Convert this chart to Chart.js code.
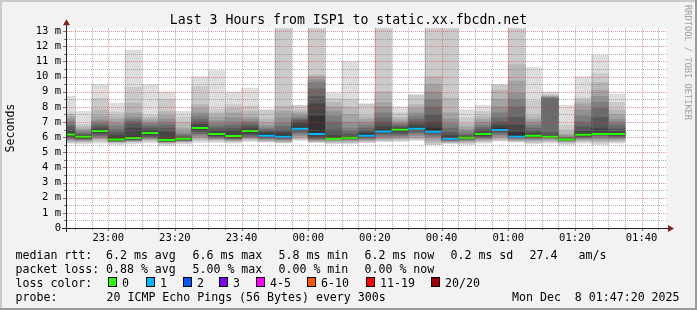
<!DOCTYPE html>
<html><head><meta charset="utf-8">
<script src="https://cdn.jsdelivr.net/npm/chart.js@4/dist/chart.umd.min.js"></script>
<style>html,body{margin:0;padding:0;background:#f2f2f2;}canvas{display:block;}</style>
</head><body>
<canvas id="c" width="697" height="310"></canvas>
<script>
const titleText = 'Last 3 Hours from ISP1 to static.xx.fbcdn.net';
const yAxisTitle = 'Seconds';
const watermark = 'RRDTOOL / TOBI OETIKER';
const windowStart = '22:47:20';
const windowEnd = '01:47:20';
const stepMinutes = 5;

// start time of every 5-minute smoke bar
const barStarts = ['22:45','22:50','22:55','23:00','23:05','23:10','23:15','23:20','23:25','23:30','23:35','23:40',
  '23:45','23:50','23:55','00:00','00:05','00:10','00:15','00:20','00:25','00:30','00:35','00:40','00:45','00:50',
  '00:55','01:00','01:05','01:10','01:15','01:20','01:25','01:30'];

// sorted ping round-trip times (ms) of each bar; lost pings are missing
const pings = [
  [5.58,5.65,5.72,5.78,5.84,5.9,5.95,6.02,6.08,6.14,6.22,6.4,6.65,6.8,7.0,7.2,7.35,7.5,7.6,8.7],
  [5.55,5.65,5.7,5.75,5.8,5.85,5.88,5.9,5.95,6.0,6.05,6.1,6.15,6.25,6.35,6.45,6.55,6.7,6.85,7.7],
  [5.6,5.7,5.8,5.9,5.95,6.0,6.1,6.2,6.3,6.4,6.45,6.55,6.7,6.85,7.0,7.15,7.4,7.8,8.55,9.45],
  [5.5,5.6,5.65,5.68,5.7,5.72,5.75,5.78,5.8,5.85,5.95,6.1,6.3,6.5,6.75,6.95,7.2,7.4,7.65,8.25],
  [5.55,5.65,5.7,5.75,5.78,5.8,5.82,5.85,5.88,5.92,6.0,6.6,6.9,7.05,7.2,7.35,7.6,8.25,9.3,11.75],
  [5.62,5.72,5.8,5.85,5.9,5.95,6.0,6.05,6.15,6.25,6.33,6.45,6.6,6.75,6.9,7.0,7.15,7.3,7.45,9.45],
  [5.45,5.55,5.6,5.65,5.68,5.7,5.72,5.74,5.76,5.8,5.82,6.35,6.6,6.8,7.0,7.2,7.45,7.7,8.5,9.0],
  [5.55,5.62,5.68,5.72,5.75,5.78,5.8,5.82,5.85,5.87,5.9,5.95,6.0,6.1,6.2,6.35,6.6,7.0,7.35,7.7],
  [5.65,5.75,5.85,5.95,6.05,6.15,6.25,6.35,6.45,6.55,6.65,6.85,7.0,7.2,7.4,7.6,7.9,8.15,9.35,10.0],
  [5.65,5.75,5.8,5.85,5.9,5.95,6.0,6.05,6.1,6.18,6.25,6.4,6.55,6.7,6.9,7.1,7.35,7.6,7.85,10.4],
  [5.6,5.68,5.74,5.78,5.82,5.86,5.9,5.94,5.98,6.05,6.12,6.45,6.6,6.8,7.0,7.3,7.6,7.9,8.15,9.0],
  [5.7,5.78,5.85,5.9,5.95,6.0,6.05,6.15,6.25,6.35,6.45,6.6,6.75,6.9,7.05,7.2,7.35,7.7,8.05,9.25],
  [5.6,5.68,5.74,5.8,5.85,5.9,5.95,6.0,6.05,6.09,6.2,6.3,6.4,6.5,6.6,6.75,6.95,7.2,7.8],
  [5.55,5.62,5.68,5.74,5.8,5.85,5.9,5.95,6.0,6.03,6.15,6.3,6.45,6.7,6.95,7.3,7.7,8.05,14.5],
  [5.7,5.8,5.9,6.0,6.1,6.2,6.3,6.4,6.5,6.56,6.7,6.95,7.1,7.2,7.3,7.45,7.6,7.75,8.1],
  [5.6,5.65,5.7,5.75,5.8,5.85,5.9,5.95,6.05,6.2,7.4,8.2,8.7,9.2,9.6,9.8,10.0,10.1,14.0],
  [5.55,5.62,5.68,5.74,5.8,5.84,5.87,5.9,5.92,5.93,5.96,6.1,6.5,7.0,7.4,7.7,8.0,8.3,8.55,8.9],
  [5.55,5.62,5.68,5.74,5.8,5.85,5.88,5.9,5.93,5.95,5.97,6.05,6.2,6.4,6.6,7.0,7.5,8.0,8.5,11.0],
  [5.6,5.66,5.72,5.78,5.84,5.9,5.95,6.0,6.05,6.09,6.2,6.3,6.45,6.6,6.8,7.0,7.2,7.4,8.2],
  [5.65,5.72,5.8,5.88,5.95,6.05,6.15,6.25,6.3,6.36,6.5,6.7,7.0,7.3,7.6,8.0,8.3,9.0,13.8],
  [5.7,5.78,5.85,5.92,6.0,6.08,6.15,6.25,6.35,6.45,6.52,6.6,6.7,6.8,6.9,7.0,7.15,7.3,7.6,8.0],
  [5.7,5.8,5.9,6.0,6.1,6.2,6.3,6.4,6.5,6.56,6.65,6.8,7.0,7.2,7.4,7.6,7.9,8.15,8.8],
  [5.35,5.5,5.65,5.8,5.95,6.05,6.15,6.25,6.3,6.36,6.6,7.0,7.5,8.0,8.5,9.0,9.5,10.0,14.0],
  [5.5,5.58,5.64,5.7,5.74,5.78,5.8,5.83,5.86,5.89,5.95,6.1,6.3,6.6,6.9,7.2,7.6,8.6,14.0],
  [5.5,5.58,5.65,5.72,5.78,5.82,5.86,5.9,5.93,5.95,5.97,6.0,6.1,6.2,6.35,6.5,6.7,6.9,7.3,7.8],
  [5.6,5.68,5.75,5.82,5.88,5.93,5.98,6.03,6.1,6.18,6.25,6.35,6.5,6.65,6.8,7.0,7.2,7.4,7.7,8.1],
  [5.65,5.75,5.85,5.95,6.05,6.15,6.25,6.35,6.42,6.49,6.6,6.8,7.0,7.3,7.6,8.0,8.5,9.1,9.45],
  [5.6,5.68,5.75,5.8,5.85,5.9,5.95,5.98,6.0,6.03,6.3,6.8,7.3,8.0,8.5,8.9,9.7,10.8,14.5],
  [5.55,5.62,5.7,5.78,5.84,5.9,5.95,6.0,6.05,6.08,6.12,6.25,6.4,6.6,6.8,7.0,7.2,7.4,8.4,10.6],
  [5.6,5.68,5.75,5.82,5.88,5.93,5.97,6.0,6.02,6.03,6.04,6.1,6.3,8.55,8.6,8.65,8.7,8.75,8.85,9.0],
  [5.5,5.58,5.64,5.7,5.74,5.77,5.8,5.82,5.84,5.85,5.86,5.88,5.9,5.95,6.0,6.1,6.2,6.4,6.8,8.1],
  [5.6,5.68,5.75,5.82,5.88,5.93,5.98,6.03,6.08,6.14,6.2,6.4,6.7,7.0,7.4,7.8,8.2,8.4,8.6,10.0],
  [5.5,5.6,5.7,5.8,5.9,6.0,6.1,6.15,6.18,6.2,6.25,6.6,7.3,7.9,8.3,8.7,9.1,9.6,10.2,11.4],
  [5.6,5.68,5.75,5.82,5.9,5.96,6.02,6.08,6.14,6.2,6.24,6.35,6.55,6.8,7.0,7.2,7.5,7.8,8.3,8.85]
];

// median rtt (ms) of each bar
const medians = [6.18,6.03,6.41,5.84,5.95,6.28,5.81,5.9,6.61,6.21,6.08,6.4,6.09,6.02,6.56,6.21,5.9,5.96,
  6.09,6.37,6.49,6.56,6.35,5.89,5.96,6.21,6.48,6.03,6.09,6.03,5.84,6.16,6.21,6.21];

// lost pings (of 20) in each bar
const lostPings = [0,0,0,0,0,0,0,0,0,0,0,0,1,1,1,1,0,0,1,1,0,1,1,1,0,0,1,1,0,0,0,0,0,0];

const lossLabels = ['0','1','2','3','4-5','6-10','11-19','20/20'];
const lossColors = ['#26ff00','#00b8ff','#0059ff','#7e00ff','#ff00ff','#ff5500','#ff0000','#a00000'];
const lossUpper = [0,1,2,3,5,10,19,20];

const xTickLabels = ['23:00','23:20','23:40','00:00','00:20','00:40','01:00','01:20','01:40'];
const yTickLabels = ['0','1 m','2 m','3 m','4 m','5 m','6 m','7 m','8 m','9 m','10 m','11 m','12 m','13 m'];
const yMax = 13.2;

const rttLegend = ['median rtt:','6.2 ms avg','6.6 ms max','5.8 ms min','6.2 ms now','0.2 ms sd','27.4','am/s'];
const lossLegend = ['packet loss:','0.88 % avg','5.00 % max','0.00 % min','0.00 % now'];
const colorLegendTitle = 'loss color:';
const probeLegend = ['probe:','20 ICMP Echo Pings (56 Bytes) every 300s'];
const dateText = 'Mon Dec  8 01:47:20 2025';

// ---------------------------------------------------------------
function toMin(t) {
  const p = t.split(':').map(Number);
  let h = p[0];
  if (h < 12) h += 24;
  return (h - 22) * 60 + p[1] + (p[2] || 0) / 60;
}
function lossIndex(n) { return lossUpper.findIndex(u => n <= u); }

const centers = barStarts.map(t => toMin(t) + stepMinutes / 2);
const MONO = '"DejaVu Sans Mono", monospace';

const datasets = [];
for (let i = 1; i <= 10; i++) {
  const g = 19 * (10 - i) + 50;
  datasets.push({
    type: 'bar', xAxisID: 'x', yAxisID: 'y',
    data: pings.map((p, k) => {
      const lo = p[i - 1], hi = p[20 - i];
      return { x: centers[k], y: (lo !== undefined && hi !== undefined) ? [lo, hi] : null };
    }),
    backgroundColor: `rgb(${g},${g},${g})`,
    borderWidth: 0, grouped: false, barPercentage: 1, categoryPercentage: 1,
    order: 20 - i
  });
}
datasets.push({
  type: 'line', xAxisID: 'x', yAxisID: 'y',
  data: medians.map((m, k) => ({ x: centers[k], y: m })),
  showLine: false, pointStyle: 'line', clip: 0,
  pointRadius: ctx => {
    const s = ctx.chart.scales.x;
    return (s.getPixelForValue(stepMinutes) - s.getPixelForValue(0)) / 2;
  },
  pointBorderWidth: 2,
  pointBorderColor: lostPings.map(n => lossColors[lossIndex(n)]),
  pointBackgroundColor: lostPings.map(n => lossColors[lossIndex(n)]),
  order: 0
});

const smokePlugin = {
  id: 'smoke',
  beforeDraw(chart) {
    const { ctx, width, height, chartArea: a } = chart;
    ctx.save();
    ctx.fillStyle = '#f2f2f2'; ctx.fillRect(0, 0, width, height);
    ctx.fillStyle = '#cbcbcb'; ctx.fillRect(0, 0, width, 2); ctx.fillRect(0, 0, 2, height);
    ctx.fillStyle = '#9a9a9a'; ctx.fillRect(0, height - 2, width, 2); ctx.fillRect(width - 2, 0, 2, height);
    ctx.fillStyle = '#ffffff'; ctx.fillRect(a.left, a.top, a.right - a.left, a.bottom - a.top);
    ctx.restore();
  },
  afterDatasetsDraw(chart) {
    const { ctx, chartArea: a, scales } = chart;
    const xs = scales.x, ys = scales.y;
    const x0 = toMin(windowStart), x1 = toMin(windowEnd);
    ctx.save();
    ctx.lineWidth = 1;
    ctx.setLineDash([1, 1]);
    const minor = 'rgba(120,120,120,0.6)', major = 'rgba(225,40,40,0.5)';
    for (const pass of [0, 1]) {
      for (let v = 0.5; v <= 13.01; v += 0.5) {
        const isMajor = Math.abs(v - Math.round(v)) < 1e-6;
        if ((pass === 1) !== isMajor) continue;
        const y = Math.round(ys.getPixelForValue(v)) + 0.5;
        ctx.strokeStyle = isMajor ? major : minor;
        ctx.beginPath(); ctx.moveTo(a.left + 1, y); ctx.lineTo(a.right, y); ctx.stroke();
      }
      for (let t = Math.ceil(x0 / stepMinutes) * stepMinutes; t < x1; t += stepMinutes) {
        const isMajor = t % 20 === 0;
        if ((pass === 1) !== isMajor) continue;
        const x = Math.round(xs.getPixelForValue(t)) + 0.5;
        ctx.strokeStyle = isMajor ? major : minor;
        ctx.beginPath(); ctx.moveTo(x, a.top); ctx.lineTo(x, a.bottom); ctx.stroke();
      }
    }
    ctx.setLineDash([]);
    ctx.strokeStyle = '#777';
    for (let v = 0.5; v <= 13.01; v += 0.5) {
      const isMajor = Math.abs(v - Math.round(v)) < 1e-6;
      const y = Math.round(ys.getPixelForValue(v)) + 0.5;
      ctx.beginPath(); ctx.moveTo(a.left - (isMajor ? 3 : 2), y); ctx.lineTo(a.left, y); ctx.stroke();
    }
    for (let t = Math.ceil(x0 / stepMinutes) * stepMinutes; t < x1; t += stepMinutes) {
      const isMajor = t % 20 === 0;
      const x = Math.round(xs.getPixelForValue(t)) + 0.5;
      ctx.beginPath(); ctx.moveTo(x, a.bottom); ctx.lineTo(x, a.bottom + (isMajor ? 3 : 2)); ctx.stroke();
    }
    const ax = Math.round(a.left) + 0.5, ay = Math.round(a.bottom) + 0.5;
    ctx.strokeStyle = '#222';
    ctx.beginPath(); ctx.moveTo(a.left - 4, ay); ctx.lineTo(a.right + 2, ay); ctx.stroke();
    ctx.beginPath(); ctx.moveTo(ax, a.bottom + 4); ctx.lineTo(ax, a.top - 3); ctx.stroke();
    ctx.fillStyle = '#7f1f1f';
    ctx.beginPath(); ctx.moveTo(a.right + 8, ay); ctx.lineTo(a.right + 2, ay - 3.5); ctx.lineTo(a.right + 2, ay + 3.5); ctx.closePath(); ctx.fill();
    ctx.beginPath(); ctx.moveTo(ax, a.top - 9); ctx.lineTo(ax - 3.5, a.top - 3); ctx.lineTo(ax + 3.5, a.top - 3); ctx.closePath(); ctx.fill();
    ctx.restore();
  },
  afterDraw(chart) {
    const { ctx } = chart;
    ctx.save();
    ctx.fillStyle = '#000';
    ctx.font = '11.6px ' + MONO;
    ctx.textBaseline = 'alphabetic';
    ctx.textAlign = 'left';
    const cols = [15.5, 106, 192.5, 278.5, 364.5, 450.5, 529.5, 578.5];
    rttLegend.forEach((s, i) => ctx.fillText(s, cols[i], 258.5));
    lossLegend.forEach((s, i) => ctx.fillText(s, cols[i], 272.5));
    ctx.fillText(colorLegendTitle, cols[0], 286.5);
    const boxX = [108, 146, 183, 219, 256, 307, 366, 431];
    lossLabels.forEach((s, i) => {
      ctx.fillStyle = lossColors[i];
      ctx.fillRect(boxX[i], 277, 9, 10);
      ctx.strokeStyle = '#000'; ctx.lineWidth = 1;
      ctx.strokeRect(boxX[i] + 0.5, 277.5, 8, 9);
      ctx.fillStyle = '#000';
      ctx.fillText(s, boxX[i] + 14, 286.5);
    });
    ctx.fillText(probeLegend[0], cols[0], 300.5);
    ctx.fillText(probeLegend[1], 106.5, 300.5);
    ctx.fillText(dateText, 512, 300.5);
    ctx.translate(687.5, 5);
    ctx.rotate(Math.PI / 2);
    ctx.font = '8.7px ' + MONO;
    ctx.fillStyle = '#a0a0a0';
    ctx.textBaseline = 'middle';
    ctx.fillText(watermark, 0, 0);
    ctx.restore();
  }
};

new Chart(document.getElementById('c'), {
  type: 'bar',
  data: { datasets },
  plugins: [smokePlugin],
  options: {
    responsive: false, animation: false, devicePixelRatio: 1, events: [],
    layout: { padding: 0 },
    plugins: {
      legend: { display: false }, tooltip: { enabled: false },
      title: { display: true, text: titleText, color: '#000',
        font: { family: MONO, size: 13.2, weight: 'normal', lineHeight: 1.15 },
        padding: { top: 13, bottom: 0 } }
    },
    scales: {
      x: {
        type: 'linear', position: 'bottom', min: toMin(windowStart), max: toMin(windowEnd), offset: false,
        grid: { display: false, drawTicks: false, tickLength: 0 }, border: { display: false },
        afterBuildTicks: s => { s.ticks = xTickLabels.map(l => ({ value: toMin(l) })); },
        ticks: { autoSkip: false, maxRotation: 0, padding: 4, color: '#000',
          font: { family: MONO, size: 10.5 }, callback: (v, i) => xTickLabels[i] },
        afterFit: s => { s.height = 82; }
      },
      y: {
        type: 'linear', position: 'left', min: 0, max: yMax,
        grid: { display: false, drawTicks: false, tickLength: 0 }, border: { display: false },
        afterBuildTicks: s => { s.ticks = yTickLabels.map((l, i) => ({ value: i })); },
        ticks: { autoSkip: false, padding: 5, color: '#000', font: { family: MONO, size: 10.5 }, callback: (v, i) => yTickLabels[i] },
        title: { display: true, text: yAxisTitle, color: '#000', font: { family: MONO, size: 11.6 }, padding: { top: 4, bottom: 0 } },
        afterFit: s => { s.width = 66; }
      },
      yR: {
        type: 'linear', position: 'right', display: true,
        grid: { display: false }, border: { display: false }, ticks: { display: false },
        afterFit: s => { s.width = 31; }
      }
    }
  }
});
</script>
</body></html>
